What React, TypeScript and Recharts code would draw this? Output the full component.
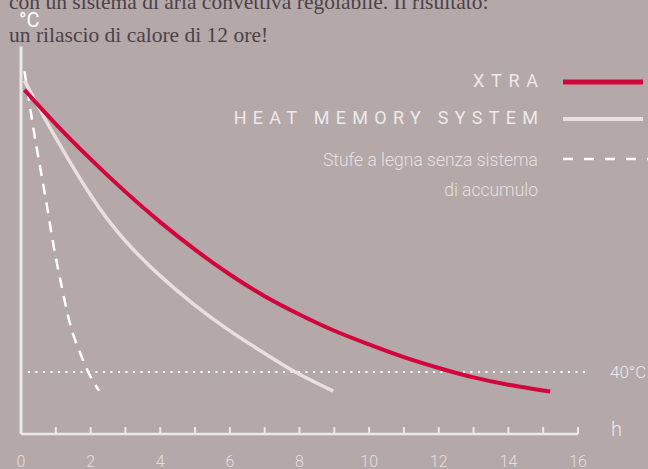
import React from 'react';
import { LineChart, Line, XAxis, YAxis, ReferenceLine } from 'recharts';

// ---- data ----
const hourTicks = [0, 1, 2, 3, 4, 5, 6, 7, 8, 9, 10, 11, 12, 13, 14, 15, 16];
const labelledHours = [0, 2, 4, 6, 8, 10, 12, 14, 16];

const xtraHours = [0.1, 1, 2, 3, 4, 5, 6, 7, 8, 9, 10, 11, 12, 13, 14, 15.2];
const xtraTemps = [222, 199.9, 177.3, 156.2, 136.7, 118.9, 102.9, 88.9, 77.1, 66.6, 57.8, 49.6, 42.6, 36.5, 31.8, 27.4];

const heatHours = [0.1, 0.55, 1, 2, 3, 4, 5, 6, 7, 8, 8.97];
const heatTemps = [228, 209, 191, 154, 124.5, 102, 83, 66.5, 52, 38.5, 27.7];

const stoveHours = [0.1, 0.26, 0.35, 0.55, 0.74, 0.9, 1.17, 1.41, 1.74, 1.93, 2.24];
const stoveTemps = [234, 211, 198, 172, 148, 126, 95, 71, 50, 40, 28];

const thresholdTemp = 40;
const thresholdLabel = '40°C';

const introLines = [
  'con un sistema di aria convettiva regolabile. Il risultato:',
  'un rilascio di calore di 12 ore!',
];
const legendItems = [
  { key: 'xtra', label: 'XTRA' },
  { key: 'heat', label: 'HEAT MEMORY SYSTEM' },
  { key: 'stove', label: 'Stufe a legna senza sistema', label2: 'di accumulo' },
];

const toSeries = (hs: number[], ts: number[]) => hs.map((h, i) => ({ h, t: ts[i] }));
const xtraData = toSeries(xtraHours, xtraTemps);
const heatData = toSeries(heatHours, heatTemps);
const stoveData = toSeries(stoveHours, stoveTemps);

// ---- styles ----
const BG = '#b4a8a8';
const AXIS = '#ece8e6';
const RED = '#d3053d';
const LIGHT = '#e9dfdf';
const WHITE = '#ffffff';
const TEXT_LIGHT = '#efe9e9';
const FONT = 'Roboto, "Noto Sans", sans-serif';

const HourTick = (props: any) => {
  const { x, y, payload } = props;
  const v = payload.value;
  return (
    <g>
      <line x1={x} x2={x} y1={y} y2={y - 7} stroke={AXIS} strokeWidth={2} />
      {labelledHours.includes(v) && (
        <text x={x} y={y + 33} textAnchor="middle" fill="#e6dede" fontSize={16} fontWeight={300} fontFamily={FONT}>
          {String(v)}
        </text>
      )}
    </g>
  );
};

export default function App() {
  return (
    <div style={{ position: 'absolute', left: 0, top: 0, width: 648, height: 469, background: BG, overflow: 'hidden' }}>
      <LineChart width={648} height={469} margin={{ top: 46.5, right: 70, bottom: 0, left: 21 }}>
        <XAxis
          type="number"
          dataKey="h"
          domain={[0, 16]}
          ticks={hourTicks}
          interval={0}
          height={35}
          allowDataOverflow
          axisLine={{ stroke: AXIS, strokeWidth: 2.5 }}
          tickLine={false}
          tickSize={0}
          tickMargin={0}
          tick={HourTick}
        />
        <YAxis type="number" domain={[0, 250]} hide />
        <ReferenceLine x={0} stroke={AXIS} strokeWidth={3} />
        <ReferenceLine
          segment={[{ x: 0.2, y: thresholdTemp }, { x: 16.2, y: thresholdTemp }]}
          ifOverflow="visible"
          stroke={WHITE}
          strokeWidth={2}
          strokeDasharray="2 5.5"
          label={{ value: thresholdLabel, position: 'right', offset: 25, fill: TEXT_LIGHT, fontSize: 17, fontFamily: FONT, fontWeight: 300 }}
        />
        <Line data={stoveData} dataKey="t" type="monotone" stroke={WHITE} strokeWidth={2.5} strokeDasharray="11 8" dot={false} isAnimationActive={false} />
        <Line data={heatData} dataKey="t" type="natural" stroke={LIGHT} strokeWidth={3.5} dot={false} isAnimationActive={false} />
        <Line data={xtraData} dataKey="t" type="natural" stroke={RED} strokeWidth={4} dot={false} isAnimationActive={false} />
      </LineChart>
      <svg width={648} height={469} style={{ position: 'absolute', left: 0, top: 0, pointerEvents: 'none' }}>
        <text x={9} y={9} fill="#4a4248" fontSize={21.5} fontFamily='"Liberation Serif", serif'>{introLines[0]}</text>
        <text x={9} y={42} fill="#4a4248" fontSize={21.5} fontFamily='"Liberation Serif", serif'>{introLines[1]}</text>
        <text x={19} y={27} fill={WHITE} fontSize={20} fontFamily={FONT}>°C</text>
        <text x={611} y={436} fill={TEXT_LIGHT} fontSize={20} fontFamily={FONT} fontWeight={300}>h</text>

        <text x={538 + 6.7} y={86.5} textAnchor="end" fill={TEXT_LIGHT} fontSize={18} fontFamily={FONT} style={{ letterSpacing: 6.7 }}>{legendItems[0].label}</text>
        <line x1={563} x2={643} y1={82} y2={82} stroke={RED} strokeWidth={5} />

        <text x={538 + 6.3} y={123.5} textAnchor="end" fill={TEXT_LIGHT} fontSize={18} fontFamily={FONT} style={{ letterSpacing: 6.3 }}>{legendItems[1].label}</text>
        <line x1={563} x2={643} y1={119} y2={119} stroke={LIGHT} strokeWidth={4} />

        <text x={538} y={166} textAnchor="end" fill="#e8e0e0" fontSize={17.5} fontFamily={FONT} fontWeight={300}>{legendItems[2].label}</text>
        <text x={538} y={196} textAnchor="end" fill="#e8e0e0" fontSize={17.5} fontFamily={FONT} fontWeight={300}>{legendItems[2].label2}</text>
        <line x1={563} x2={648} y1={159} y2={159} stroke={WHITE} strokeWidth={2.5} strokeDasharray="10 11" />
      </svg>
    </div>
  );
}
